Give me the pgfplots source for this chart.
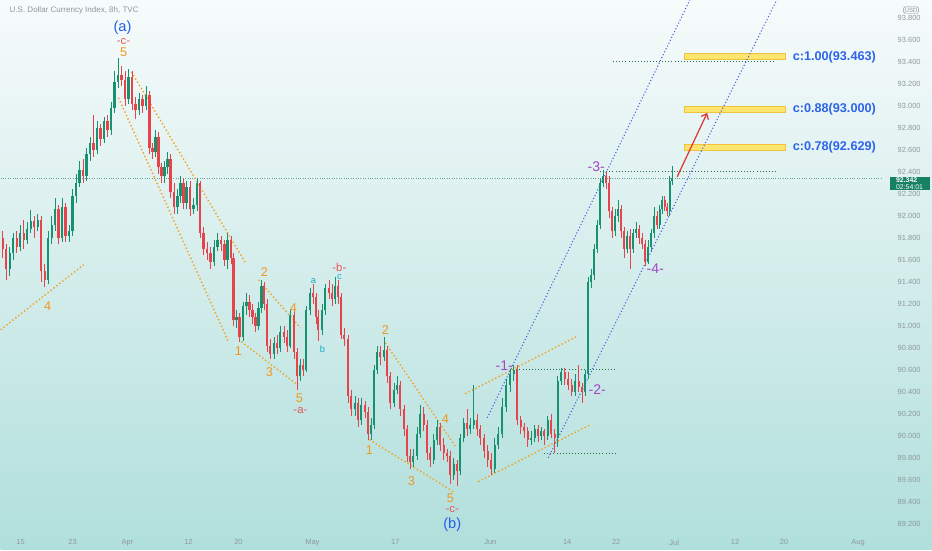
\documentclass[border=0pt]{standalone}
\usepackage{pgfplots}
\pgfplotsset{compat=1.18}
\usepackage{pgfplotstable}
\usetikzlibrary{arrows.meta}
\usepackage{fontspec}
\setmainfont{Liberation Sans}

\definecolor{bgtop}{RGB}{247,251,251}
\definecolor{bgbot}{RGB}{176,223,220}
\definecolor{candleup}{RGB}{22,146,112}
\definecolor{candledn}{RGB}{232,67,74}
\definecolor{axtxt}{RGB}{140,152,156}
\definecolor{wave}{RGB}{244,160,30}
\definecolor{chan}{RGB}{70,90,230}
\definecolor{lvl}{RGB}{40,110,70}
\definecolor{pline}{RGB}{100,160,140}
\definecolor{fibtxt}{RGB}{45,100,235}
\definecolor{fibbox}{RGB}{255,228,110}
\definecolor{fibedge}{RGB}{240,195,60}
\definecolor{degA}{RGB}{35,95,230}
\definecolor{subred}{RGB}{228,88,88}
\definecolor{minor}{RGB}{242,150,30}
\definecolor{micro}{RGB}{30,170,200}
\definecolor{purp}{RGB}{165,70,195}
\definecolor{tagc}{RGB}{24,128,100}
\definecolor{arrowc}{RGB}{220,50,50}

% 8h candles: x position on the time scale, open, high, low, close
\pgfplotstableread{
x o h l c
2 91.80 91.86 91.62 91.70
5.5 91.70 91.74 91.42 91.52
9 91.52 91.72 91.45 91.66
12.5 91.66 91.84 91.60 91.80
16 91.80 91.86 91.66 91.72
19.5 91.72 91.92 91.68 91.84
23 91.84 91.96 91.70 91.78
26.5 91.78 91.94 91.74 91.88
30 91.88 92.05 91.84 91.95
33.5 91.95 92.00 91.80 91.90
37 91.90 92.02 91.86 91.96
40.5 91.96 92.00 91.40 91.50
44 91.50 91.56 91.35 91.42
47.5 91.42 91.86 91.38 91.80
51 91.80 92.00 91.74 91.92
54.5 91.92 92.16 91.86 92.06
58 92.06 92.10 91.74 91.80
61.5 91.80 92.16 91.76 92.08
65 92.08 92.12 91.76 91.82
68.5 91.82 91.92 91.76 91.86
72 91.86 92.24 91.82 92.18
75.5 92.18 92.38 92.12 92.30
79 92.30 92.50 92.26 92.42
82.5 92.42 92.52 92.30 92.36
86 92.36 92.62 92.32 92.56
89.5 92.56 92.72 92.50 92.66
93 92.66 92.92 92.54 92.60
96.5 92.60 92.86 92.56 92.80
100 92.80 92.84 92.64 92.70
103.5 92.70 92.90 92.66 92.86
107 92.86 92.92 92.72 92.78
110.5 92.78 93.04 92.74 92.98
114 92.98 93.32 92.94 93.22
117.5 93.22 93.44 93.16 93.28
121 93.28 93.36 93.18 93.24
124.5 93.24 93.32 93.00 93.06
128 93.06 93.34 93.02 93.26
131.5 93.26 93.32 92.96 93.02
135 93.02 93.08 92.88 92.96
138.5 92.96 93.12 92.92 93.06
142 93.06 93.10 92.94 93.00
145.5 93.00 93.18 92.96 93.10
149 93.10 93.14 92.56 92.62
152 92.62 92.66 92.52 92.58
155 92.58 92.78 92.54 92.72
158 92.72 92.76 92.38 92.44
161 92.44 92.48 92.30 92.36
164 92.36 92.50 92.30 92.44
167 92.44 92.58 92.38 92.52
170 92.52 92.56 92.16 92.22
173.5 92.22 92.30 92.02 92.08
177 92.08 92.24 92.02 92.18
180 92.18 92.36 92.12 92.30
183 92.30 92.34 92.06 92.12
186 92.12 92.32 92.06 92.26
189.5 92.26 92.32 92.00 92.06
193 92.06 92.16 92.02 92.10
196.5 92.10 92.34 92.04 92.30
199.5 92.30 92.32 91.80 91.84
203 91.84 91.90 91.64 91.70
206.5 91.70 91.76 91.60 91.66
210 91.66 91.72 91.52 91.58
213.5 91.58 91.78 91.54 91.72
217 91.72 91.84 91.68 91.78
220.5 91.78 91.82 91.68 91.74
224 91.74 91.78 91.54 91.60
227 91.60 91.84 91.52 91.78
230.5 91.78 91.82 91.56 91.62
233 91.62 91.66 91.00 91.05
236 91.05 91.14 90.98 91.08
239 91.08 91.12 90.85 90.90
242.5 90.90 91.22 90.86 91.18
246 91.18 91.30 91.10 91.22
249 91.22 91.28 91.08 91.14
252 91.14 91.20 91.02 91.08
255 91.08 91.12 90.94 91.00
258 91.00 91.22 90.96 91.16
261 91.16 91.42 91.12 91.36
264 91.36 91.40 91.14 91.20
267 91.20 91.24 90.76 90.82
270 90.82 90.88 90.70 90.74
273.5 90.74 90.90 90.70 90.84
277 90.84 90.92 90.74 90.80
280 90.80 91.00 90.76 90.94
283.5 90.94 91.00 90.84 90.90
287 90.90 90.96 90.76 90.82
290 90.82 91.14 90.80 91.10
293.5 91.10 91.14 90.70 90.76
297 90.76 90.80 90.42 90.54
300 90.54 90.70 90.50 90.64
303 90.64 90.70 90.54 90.60
306 90.60 91.18 90.58 91.14
309.5 91.14 91.34 91.10 91.30
313 91.30 91.38 91.20 91.26
315.5 91.26 91.30 91.02 91.08
318 91.08 91.14 90.86 90.96
322 90.96 91.20 90.92 91.14
325 91.14 91.38 91.10 91.34
328.5 91.34 91.42 91.24 91.30
332 91.30 91.38 91.18 91.24
335 91.24 91.44 91.20 91.36
338 91.36 91.42 91.20 91.26
341 91.26 91.30 90.88 90.92
344 90.92 90.98 90.82 90.88
347.5 90.88 90.92 90.30 90.36
351 90.36 90.42 90.18 90.24
354.5 90.24 90.36 90.18 90.30
358 90.30 90.34 90.08 90.14
361 90.14 90.34 90.10 90.28
364.5 90.28 90.32 90.16 90.22
367.5 90.22 90.26 89.96 90.02
370.5 90.02 90.16 89.96 90.10
373.5 90.10 90.64 90.06 90.60
377 90.60 90.82 90.56 90.76
380 90.76 90.82 90.64 90.72
383.5 90.72 90.90 90.68 90.78
387 90.78 90.82 90.48 90.54
390 90.54 90.58 90.24 90.30
393.5 90.30 90.48 90.26 90.42
397 90.42 90.54 90.38 90.46
400 90.46 90.50 90.18 90.24
403.5 90.24 90.28 90.00 90.06
407 90.06 90.10 89.76 89.82
410 89.82 89.88 89.70 89.76
413 89.76 89.88 89.72 89.82
417 89.82 90.08 89.78 90.02
420 90.02 90.28 89.98 90.20
423.5 90.20 90.26 90.04 90.10
427 90.10 90.14 89.78 89.84
430 89.84 89.90 89.72 89.78
433.5 89.78 90.02 89.74 89.96
437 89.96 90.14 89.92 90.08
440 90.08 90.12 89.86 89.92
443.5 89.92 89.98 89.78 89.84
447 89.84 89.88 89.76 89.82
450 89.82 89.86 89.56 89.64
453.5 89.64 89.80 89.60 89.74
457 89.74 89.78 89.54 89.68
460 89.68 90.02 89.64 89.98
463.5 89.98 90.16 89.94 90.12
467 90.12 90.24 90.00 90.06
470 90.06 90.16 90.02 90.10
473.5 90.10 90.46 90.06 90.14
477 90.14 90.20 90.00 90.06
480 90.06 90.10 89.92 89.98
484 89.98 90.02 89.80 89.86
487.5 89.86 89.92 89.72 89.78
491 89.78 89.84 89.64 89.70
494.5 89.70 89.98 89.66 89.92
498 89.92 90.08 89.88 90.02
502 90.02 90.34 89.98 90.26
506 90.26 90.52 90.22 90.46
510 90.46 90.60 90.40 90.56
513.5 90.56 90.64 90.50 90.60
517 90.60 90.64 90.10 90.14
520.5 90.14 90.18 90.02 90.08
524 90.08 90.12 89.98 90.04
527.5 90.04 90.08 89.90 89.96
531 89.96 90.04 89.92 89.98
534.5 89.98 90.10 89.94 90.06
538 90.06 90.10 89.94 90.00
541 90.00 90.08 89.96 90.04
544 90.04 90.06 89.92 90.00
547.5 90.00 90.18 89.96 90.14
551 90.14 90.20 89.98 90.02
554.5 90.02 90.06 89.84 89.98
557.5 89.98 90.54 89.90 90.50
561 90.50 90.62 90.46 90.58
564.5 90.58 90.62 90.46 90.52
568 90.52 90.58 90.42 90.46
571.5 90.46 90.52 90.36 90.40
575 90.40 90.56 90.36 90.50
578.5 90.50 90.64 90.40 90.44
582 90.44 90.48 90.30 90.40
585 90.40 90.60 90.36 90.56
588 90.56 91.44 90.52 91.40
591 91.40 91.52 91.34 91.46
594 91.46 91.74 91.42 91.70
597 91.70 91.96 91.66 91.92
600 91.92 92.34 91.88 92.30
603 92.30 92.42 92.26 92.36
606 92.36 92.40 92.24 92.30
609 92.30 92.36 91.98 92.04
612 92.04 92.08 91.80 91.86
615 91.86 92.06 91.82 92.00
618 92.00 92.14 91.94 92.06
621 92.06 92.10 91.80 91.86
624 91.86 91.90 91.62 91.70
627 91.70 91.86 91.66 91.82
630 91.82 91.88 91.52 91.70
633 91.70 91.88 91.66 91.84
636 91.84 91.94 91.80 91.88
639 91.88 91.92 91.74 91.80
642 91.80 91.84 91.70 91.74
645 91.74 91.78 91.54 91.58
648 91.58 91.78 91.56 91.72
651 91.72 91.88 91.68 91.84
654 91.84 92.08 91.80 92.00
657 92.00 92.04 91.88 91.92
659.5 91.92 92.10 91.88 92.06
662 92.06 92.18 92.02 92.14
664.5 92.14 92.18 92.04 92.08
667 92.08 92.12 92.00 92.04
669.5 92.04 92.36 92.00 92.32
672 92.32 92.45 92.28 92.342
}\candles

\begin{document}
\begin{tikzpicture}
\shade[top color=bgtop, bottom color=bgbot] (0pt,0pt) rectangle (699pt,412.5pt);
\begin{axis}[
  at={(0pt,16.5pt)}, anchor=south west,
  scale only axis, width=662.25pt, height=396pt,
  xmin=0, xmax=883, ymin=89.16364, ymax=93.96364,
  clip mode=individual,
  axis line style={draw=none}, tick style={draw=none},
  xtick={20,72,127,188,238,312,395,490,567,616,674,735,784,858},
  xticklabels={15,23,Apr,12,20,May,17,Jun,14,22,Jul,12,20,Aug},
  ytick={89.2,89.4,89.6,89.8,90,90.2,90.4,90.6,90.8,91,91.2,91.4,91.6,91.8,92,92.2,92.4,92.6,92.8,93,93.2,93.4,93.6,93.8},
  yticklabel pos=right,
  /pgf/number format/assume math mode=true,
  yticklabel style={/pgf/number format/.cd, fixed, fixed zerofill, precision=3, 1000 sep={}, /tikz/.cd,
    font=\fontsize{5.6}{6}\selectfont, text=axtxt, anchor=west, xshift=7.5pt},
  xticklabel style={font=\fontsize{5.6}{6}\selectfont, text=axtxt, yshift=-5.5pt},
  candle/.style={draw=none, mark=none, forget plot,
    error bars/y dir=plus, error bars/y explicit, error bars/error mark=none},
]
% Fibonacci target zones
\fill[fibbox, draw=fibedge, line width=0.4pt] (axis cs:684,93.48) rectangle (axis cs:785,93.42);
\fill[fibbox, draw=fibedge, line width=0.4pt] (axis cs:684,93.00) rectangle (axis cs:785,92.945);
\fill[fibbox, draw=fibedge, line width=0.4pt] (axis cs:684,92.655) rectangle (axis cs:785,92.60);

% last price line
\addplot[pline, line width=0.5pt, dash pattern=on 0.6pt off 1.2pt] coordinates {(0,92.342) (883,92.342)};

% horizontal levels
\addplot[lvl, line width=0.7pt, dash pattern=on 0.7pt off 1.6pt] coordinates {(613,93.409) (773,93.409)};
\addplot[lvl, line width=0.7pt, dash pattern=on 0.7pt off 1.6pt] coordinates {(600,92.40) (776,92.40)};
\addplot[lvl, line width=0.7pt, dash pattern=on 0.7pt off 1.6pt] coordinates {(510,90.60) (616,90.60)};
\addplot[lvl, line width=0.7pt, dash pattern=on 0.7pt off 1.6pt] coordinates {(544,89.836) (616,89.836)};

% wave channels
\pgfplotsset{wv/.style={wave, line width=1.1pt, dash pattern=on 1pt off 1.8pt}}
\addplot[wv] coordinates {(0,90.964) (83,91.555)};
\addplot[wv] coordinates {(131,93.309) (245,91.573)};
\addplot[wv] coordinates {(118,93.073) (228,90.855)};
\addplot[wv] coordinates {(258,91.418) (300,90.982)};
\addplot[wv] coordinates {(241,90.855) (297,90.464)};
\addplot[wv] coordinates {(385,90.845) (456,89.891)};
\addplot[wv] coordinates {(369,89.964) (453,89.491)};
\addplot[wv] coordinates {(465,90.382) (576,90.90)};
\addplot[wv] coordinates {(478,89.582) (590,90.10)};

% rising channel
\addplot[chan, line width=0.8pt, dash pattern=on 0.8pt off 1.6pt] coordinates {(487,90.164) (690,93.97)};
\addplot[chan, line width=0.8pt, dash pattern=on 0.8pt off 1.6pt] coordinates {(548,89.80) (777,93.97)};

% candles: wicks then bodies
\addplot[candle,
  y filter/.expression={\thisrow{c}<\thisrow{o} ? nan : y},
  error bars/error bar style={draw=candleup, line width=0.5pt, solid}]
  table[x=x, y=l, y error expr=\thisrow{h}-\thisrow{l}] {\candles};
\addplot[candle,
  y filter/.expression={\thisrow{c}<\thisrow{o} ? y : nan},
  error bars/error bar style={draw=candledn, line width=0.5pt, solid}]
  table[x=x, y=l, y error expr=\thisrow{h}-\thisrow{l}] {\candles};
\addplot[candle,
  y filter/.expression={\thisrow{c}<\thisrow{o} ? nan : y},
  error bars/error bar style={draw=candleup, line width=1.6pt, solid}]
  table[x=x, y expr={min(\thisrow{o},\thisrow{c})}, y error expr={abs(\thisrow{c}-\thisrow{o})}] {\candles};
\addplot[candle,
  y filter/.expression={\thisrow{c}<\thisrow{o} ? y : nan},
  error bars/error bar style={draw=candledn, line width=1.6pt, solid}]
  table[x=x, y expr={min(\thisrow{o},\thisrow{c})}, y error expr={abs(\thisrow{c}-\thisrow{o})}] {\candles};

% projection arrow
\draw[arrowc, line width=0.9pt, -{Straight Barb[length=3.5pt,width=6pt]}] (axis cs:677,92.355) -- (axis cs:707,92.936);

% target labels
\node[anchor=west, font=\fontsize{9.5}{10}\selectfont\bfseries, text=fibtxt] at (axis cs:788,93.445) {c:1.00(93.463)};
\node[anchor=west, font=\fontsize{9.5}{10}\selectfont\bfseries, text=fibtxt] at (axis cs:788,92.973) {c:0.88(93.000)};
\node[anchor=west, font=\fontsize{9.5}{10}\selectfont\bfseries, text=fibtxt] at (axis cs:788,92.627) {c:0.78(92.629)};

% wave labels
\node[font=\fontsize{11}{12}\selectfont, text=degA] at (axis cs:122,93.71) {(a)};
\node[font=\fontsize{8.5}{9}\selectfont, text=subred] at (axis cs:123,93.59) {-c-};
\node[font=\fontsize{9.5}{10}\selectfont, text=minor] at (axis cs:123,93.49) {5};
\node[font=\fontsize{9.5}{10}\selectfont, text=minor] at (axis cs:47,91.182) {4};
\node[font=\fontsize{9.5}{10}\selectfont, text=minor] at (axis cs:264,91.49) {2};
\node[font=\fontsize{9.5}{10}\selectfont, text=minor] at (axis cs:238,90.77) {1};
\node[font=\fontsize{9.5}{10}\selectfont, text=minor] at (axis cs:269,90.575) {3};
\node[font=\fontsize{9.5}{10}\selectfont, text=minor] at (axis cs:293,91.164) {4};
\node[font=\fontsize{9.5}{10}\selectfont, text=minor] at (axis cs:299,90.345) {5};
\node[font=\fontsize{8.5}{9}\selectfont, text=subred] at (axis cs:300,90.227) {-a-};
\node[font=\fontsize{7}{8}\selectfont, text=micro] at (axis cs:313,91.41) {a};
\node[font=\fontsize{7}{8}\selectfont, text=micro] at (axis cs:322,90.79) {b};
\node[font=\fontsize{7}{8}\selectfont, text=micro] at (axis cs:339,91.445) {c};
\node[font=\fontsize{8.5}{9}\selectfont, text=subred] at (axis cs:339,91.535) {-b-};
\node[font=\fontsize{9.5}{10}\selectfont, text=minor] at (axis cs:385,90.96) {2};
\node[font=\fontsize{9.5}{10}\selectfont, text=minor] at (axis cs:369,89.873) {1};
\node[font=\fontsize{9.5}{10}\selectfont, text=minor] at (axis cs:411,89.59) {3};
\node[font=\fontsize{9.5}{10}\selectfont, text=minor] at (axis cs:445,90.15) {4};
\node[font=\fontsize{9.5}{10}\selectfont, text=minor] at (axis cs:450,89.435) {5};
\node[font=\fontsize{8.5}{9}\selectfont, text=subred] at (axis cs:452,89.33) {-c-};
\node[font=\fontsize{11}{12}\selectfont, text=degA] at (axis cs:452,89.19) {(b)};
\node[font=\fontsize{10.5}{11}\selectfont, text=purp] at (axis cs:504,90.64) {-1-};
\node[font=\fontsize{10.5}{11}\selectfont, text=purp] at (axis cs:597,90.418) {-2-};
\node[font=\fontsize{10.5}{11}\selectfont, text=purp] at (axis cs:596,92.45) {-3-};
\node[font=\fontsize{10.5}{11}\selectfont, text=purp] at (axis cs:655,91.52) {-4-};

% header and price scale details
\node[anchor=west, font=\fontsize{6}{7}\selectfont, text=axtxt] at (axis description cs:0.005,0.981) {U.S. Dollar Currency Index, 8h, TVC};
\node[draw=axtxt, rounded corners=1pt, inner sep=0.8pt, line width=0.3pt, font=\fontsize{4.5}{5}\selectfont, text=axtxt] at (axis description cs:1.0317,0.981) {USD};
\node[fill=tagc, text=white, inner xsep=1pt, inner ysep=0.3pt, align=left, minimum width=30pt, minimum height=10.3pt, font=\fontsize{5.2}{5.4}\selectfont] at (axis cs:909.5,92.295) {\textbf{92.342}\\02:54:01};
\end{axis}
\end{tikzpicture}
\end{document}
